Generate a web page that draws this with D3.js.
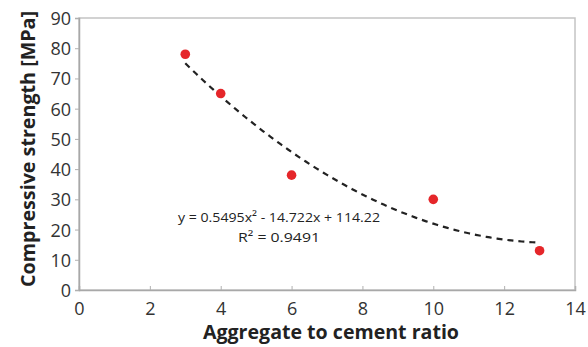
<!DOCTYPE html>
<html><head><meta charset="utf-8">
<script src="https://cdn.jsdelivr.net/npm/d3@7"></script>
<style>body{margin:0;background:#fff}svg{display:block}text{font-family:"Open Sans",sans-serif}</style>
</head><body><svg width="588" height="347"></svg>
<script>
const xValues = [3, 4, 6, 10, 13];
const yValues = [78, 65, 38, 30, 13];
const xTicks = [0, 2, 4, 6, 8, 10, 12, 14];
const yTicks = [0, 10, 20, 30, 40, 50, 60, 70, 80, 90];
const fitCoef = [0.5495, -14.722, 114.22];
const fitLabels = ["y = 0.5495x² - 14.722x + 114.22", "R² = 0.9491"];
const xTitle = "Aggregate to cement ratio";
const yTitle = "Compressive strength [MPa]";

const svg = d3.select("svg");
const L = 79, R = 575, T = 18, B = 290;
const x = d3.scaleLinear().domain([0, 14]).range([L, R]);
const y = d3.scaleLinear().domain([0, 90]).range([B, T]);

// frame
svg.append("rect").attr("x", L).attr("y", T).attr("width", R - L).attr("height", B - T)
  .attr("fill", "none").attr("stroke", "#c4c4c4").attr("stroke-width", 1.5);

const xa = svg.append("g").attr("transform", `translate(0,${B})`)
  .call(d3.axisBottom(x).tickValues(xTicks).tickSize(-4).tickPadding(9).tickFormat(d3.format("d")));
const ya = svg.append("g").attr("transform", `translate(${L},0)`)
  .call(d3.axisLeft(y).tickValues(yTicks).tickSize(4).tickPadding(4).tickFormat(d3.format("d")));
[xa, ya].forEach(a => {
  a.select(".domain").attr("stroke", "#a8a8a8").attr("stroke-width", 1.5);
  a.selectAll(".tick line").attr("stroke", "#b0b0b0");
  a.selectAll(".tick text").attr("fill", "#333").style("font-size", "18px").style("font-family", "'Open Sans',sans-serif");
});
xa.selectAll(".tick text").attr("dy", "0.9em");
ya.selectAll(".tick text").attr("dy", "0.36em");

// trendline
const xs = d3.range(3, 13.0001, 0.1);
const f = v => fitCoef[0] * v * v + fitCoef[1] * v + fitCoef[2];
svg.append("path").datum(xs)
  .attr("d", d3.line().x(d => x(d)).y(d => y(f(d))))
  .attr("fill", "none").attr("stroke", "#222").attr("stroke-width", 2.2)
  .attr("stroke-dasharray", "6,5");

// points
svg.selectAll("circle.pt").data(xValues).join("circle")
  .attr("cx", d => x(d)).attr("cy", (d, i) => y(yValues[i])).attr("r", 4.8)
  .attr("fill", "#e5262a");

// fit labels
svg.selectAll("text.fit").data(fitLabels).join("text")
  .attr("x", 279).attr("y", (d, i) => 222 + i * 20).attr("text-anchor", "middle")
  .attr("fill", "#222").style("font-size", "13.5px")
  .attr("textLength", (d, i) => i === 0 ? 202 : 82).attr("lengthAdjust", "spacingAndGlyphs")
  .text(d => d);

svg.append("text").attr("x", 331).attr("y", 339).attr("text-anchor", "middle")
  .attr("fill", "#222").style("font-size", "19px").style("font-weight", "bold")
  .attr("textLength", 256).attr("lengthAdjust", "spacingAndGlyphs").text(xTitle);
svg.append("text").attr("transform", "translate(28,149) rotate(-90)").attr("text-anchor", "middle")
  .attr("dy", "0.35em").attr("fill", "#222").style("font-size", "19px").style("font-weight", "bold")
  .attr("textLength", 276).attr("lengthAdjust", "spacingAndGlyphs").text(yTitle);
</script></body></html>
